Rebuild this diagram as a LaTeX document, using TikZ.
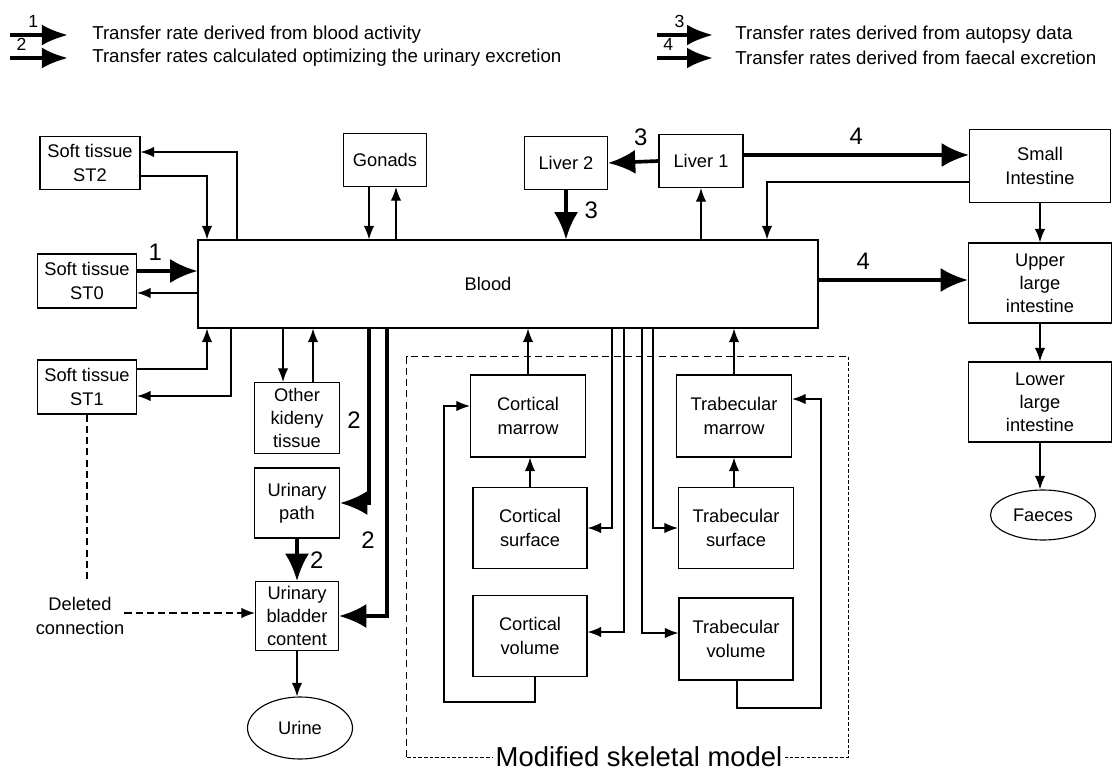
\documentclass[tikz,border=0pt]{standalone}
\usepackage{fontspec}
\setmainfont{Liberation Sans}
\usetikzlibrary{arrows.meta,shapes.geometric}

\begin{document}
\begin{tikzpicture}[
  x=0.025cm, y=-0.025cm,
  box/.style={draw, line width=0.8pt, fill=white, align=center, inner sep=1pt, font=\fontsize{13}{16.5}\selectfont},
  sz/.style 2 args={minimum width=#1*0.025cm, minimum height=#2*0.025cm},
  oval/.style={draw, line width=0.8pt, ellipse, inner sep=1pt, font=\fontsize{13}{16.5}\selectfont},
  ln/.style={-{Latex[length=3.4mm,width=2.6mm]}, line width=0.9pt},
  bigln/.style={-{Latex[length=6.8mm,width=6mm]}, line width=2.6pt},
  keyln/.style={-{Latex[length=6.5mm,width=5.2mm]}, line width=2.6pt},
  num/.style={font=\fontsize{17}{17}\selectfont, inner sep=0pt},
  keynum/.style={font=\fontsize{12.5}{13}\selectfont, inner sep=0pt},
  keytext/.style={anchor=west, font=\fontsize{13.3}{15}\selectfont, inner sep=0pt},
  dashln/.style={line width=0.9pt, dash pattern=on 5pt off 3pt}
]
\useasboundingbox (0,0) rectangle (1112,776);

\coordinate (k1a) at (10,35);  \coordinate (k1b) at (68,35);
\coordinate (k2a) at (10,58);  \coordinate (k2b) at (68,58);
\coordinate (k3a) at (657,35); \coordinate (k3b) at (713,35);
\coordinate (k4a) at (657,58); \coordinate (k4b) at (713,58);
\draw[keyln] (k1a) -- (k1b) node[keynum, pos=0.4, above=4pt] {1};
\draw[keyln] (k2a) -- (k2b) node[keynum, pos=0.2, above=4pt] {2};
\draw[keyln] (k3a) -- (k3b) node[keynum, pos=0.4, above=4pt] {3};
\draw[keyln] (k4a) -- (k4b) node[keynum, pos=0.2, above=4pt] {4};
\node[keytext] (key1) at (92,35) {Transfer rate derived from blood activity};
\node[keytext] (key2) at (92,58) {Transfer rates calculated optimizing the urinary excretion};
\node[keytext] (key3) at (735,35) {Transfer rates derived from autopsy data};
\node[keytext] (key4) at (735,58) {Transfer rates derived from faecal excretion};

\node[draw=none, sz={441}{400}] (skel) at (627.5,557) {};
\draw[dashln] (skel.south west) |- (skel.north east);
\draw[line width=0.9pt, dash pattern=on 2.5pt off 1.5pt] (skel.north east) |- (skel.south west);
\node[fill=white, inner sep=2pt, font=\fontsize{19.5}{21}\selectfont] (skellbl) at (639,757) {Modified skeletal model};

\node[box, sz={620}{88}] (blood) at (508,284) {Blood\hspace*{1cm}};
\node[box, sz={100}{53}] (st2) at (90,163) {Soft tissue\\ST2};
\node[box, sz={99}{54}] (st0) at (87,281) {Soft tissue\\ST0};
\node[box, sz={99}{54}] (st1) at (87,387) {Soft tissue\\ST1};
\node[box, sz={83}{53}] (gonads) at (385,160) {Gonads};
\node[box, sz={83}{53}] (liver2) at (566,163) {Liver 2};
\node[box, sz={84}{53}] (liver1) at (701,161) {Liver 1};
\node[box, sz={141}{73}] (smallint) at (1040,166) {Small\\Intestine};
\node[box, sz={143}{80}] (uli) at (1040,283) {Upper\\large\\intestine};
\node[box, sz={143}{80}] (lli) at (1040,402) {Lower\\large\\intestine};
\node[oval, minimum width=105*0.025cm, minimum height=50*0.025cm] (faeces) at (1043,515) {Faeces};
\node[box, sz={85}{71}] (kidney) at (297,418) {Other\\kideny\\tissue};
\node[box, sz={85}{70}] (upath) at (297,503) {Urinary\\path};
\node[box, sz={83}{69}] (bladder) at (297,616) {Urinary\\bladder\\content};
\node[oval, minimum width=105*0.025cm, minimum height=62*0.025cm] (urine) at (300,728) {Urine};
\node[align=center, inner sep=0pt, font=\fontsize{13}{16.5}\selectfont] (del) at (80,616) {Deleted\\connection};
\node[box, sz={115}{82}] (cmarrow) at (528,416) {Cortical\\marrow};
\node[box, sz={114}{81}] (csurf) at (530,528) {Cortical\\surface};
\node[box, sz={114}{81}] (cvol) at (530,636) {Cortical\\volume};
\node[box, sz={115}{82}] (tmarrow) at (734,416) {Trabecular\\marrow};
\node[box, sz={115}{81}] (tsurf) at (736,528) {Trabecular\\surface};
\node[box, sz={114}{82}] (tvol) at (736,639) {Trabecular\\volume};

\draw[ln] (st2.east |- 0,176) -| (blood.north -| 207,0);
\draw[ln] (blood.north -| 237,0) |- (st2.east |- 0,152);
\draw[bigln] (st0.east |- 0,271) -- (blood.west |- 0,271) node[num, pos=0.3, above=6pt] {1};
\draw[ln] (blood.west |- 0,293) -- (st0.east |- 0,293);
\draw[ln] (st1.east |- 0,369) -| (blood.south -| 207,0);
\draw[ln] (blood.south -| 231,0) |- (st1.east |- 0,396);
\draw[ln] (gonads.south -| 369,0) -- (blood.north -| 369,0);
\draw[ln] (blood.north -| 396,0) -- (gonads.south -| 396,0);
\draw[ln] (blood.south -| 283,0) -- (kidney.north -| 283,0);
\draw[ln] (kidney.north -| 313,0) -- (blood.south -| 313,0);
\draw[bigln] (blood.south -| 369,0) |- (upath.east);
\draw[bigln] (blood.south -| 387,0) |- (bladder.east);
\node[num] (n2a) at (354,420) {2};
\node[num] (n2b) at (368,540) {2};
\draw[bigln] (upath.south) -- (bladder.north) node[num, midway, right=8pt] {2};
\draw[ln] (bladder.south) -- (bladder.south |- urine.north);
\draw[dashln] (st1.south) -- (st1.south |- 0,583);
\draw[dashln, -{Latex[length=3.4mm,width=2.6mm]}] (del.east |- 0,613) -- (bladder.west |- 0,613);

\draw[bigln] (liver1.west) -- (liver2.east) node[num, pos=0.35, above=10pt] {3};
\draw[bigln] (liver2.south) -- (liver2.south |- blood.north) node[num, pos=0.4, right=12pt] {3};
\draw[ln] (liver1.south |- blood.north) -- (liver1.south);
\draw[bigln] (liver1.east |- 0,155) -- (smallint.west |- 0,155) node[num, pos=0.5, above=6pt] {4};
\draw[ln] (smallint.west |- 0,182) -| (blood.north -| 767,0);
\draw[bigln] (blood.east |- 0,280) -- (uli.west |- 0,280) node[num, pos=0.3, above=6pt] {4};
\draw[ln] (smallint.south) -- (uli.north);
\draw[ln] (uli.south) -- (lli.north);
\draw[ln] (lli.south) -- (lli.south |- faeces.north);

\draw[ln] (cmarrow.north) -- (cmarrow.north |- blood.south);
\draw[ln] (csurf.north) -- (csurf.north |- cmarrow.south);
\draw[ln] (blood.south -| 612,0) |- (csurf.east);
\draw[ln] (blood.south -| 624,0) |- (cvol.east |- 0,632);
\draw[ln] (blood.south -| 642,0) |- (tvol.west |- 0,633);
\draw[ln] (blood.south -| 653,0) |- (tsurf.west);
\draw[ln] (tmarrow.north) -- (tmarrow.north |- blood.south);
\draw[ln] (tsurf.north -| tmarrow.north) -- (tmarrow.south);
\draw[ln] (cvol.south -| 535,0) |- (444,702) |- (cmarrow.west |- 0,406);
\draw[ln] (tvol.south -| 737,0) |- (821,708) |- (tmarrow.east |- 0,399);
\end{tikzpicture}
\end{document}
